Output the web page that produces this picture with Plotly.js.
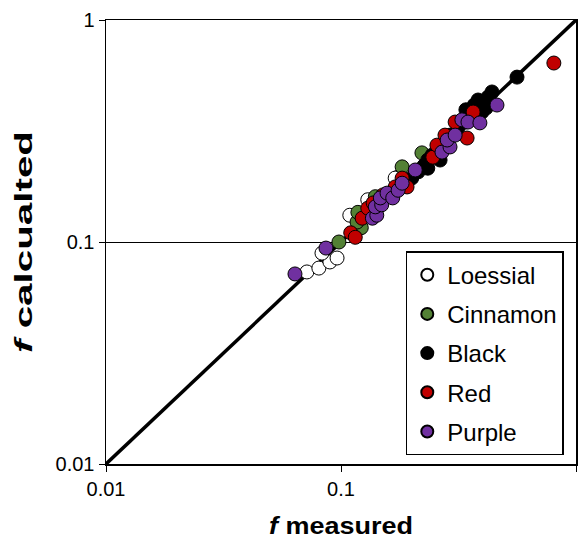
<!DOCTYPE html>
<html>
<head>
<meta charset="utf-8">
<script src="https://cdn.plot.ly/plotly-3.0.1.min.js"></script>
<style>html,body{margin:0;padding:0;background:#fff;}#chart{width:579px;height:543px;}</style>
</head>
<body>
<div id="chart"></div>
<script>
// Data (f measured, f calculated)
const loessialX = [0.0716, 0.0805, 0.0897, 0.0962, 0.083, 0.109, 0.130, 0.175, 0.170];
const loessialY = [0.0733, 0.0763, 0.0813, 0.0847, 0.0891, 0.132, 0.155, 0.196, 0.194];

const cinnamonX = [0.098, 0.122, 0.117, 0.118, 0.140, 0.182, 0.221];
const cinnamonY = [0.100, 0.116, 0.123, 0.136, 0.160, 0.218, 0.252];

const blackX = [0.200, 0.213, 0.225, 0.234, 0.234, 0.244, 0.254, 0.256, 0.264, 0.267, 0.280, 0.291, 0.315, 0.337, 0.354, 0.340, 0.361, 0.369, 0.375, 0.383, 0.390, 0.398, 0.406, 0.414, 0.423, 0.439, 0.561];
const blackY = [0.194, 0.207, 0.220, 0.215, 0.234, 0.246, 0.246, 0.259, 0.234, 0.273, 0.288, 0.303, 0.327, 0.347, 0.373, 0.394, 0.362, 0.414, 0.385, 0.436, 0.406, 0.385, 0.428, 0.401, 0.450, 0.474, 0.553];

const redX = [0.110, 0.115, 0.123, 0.130, 0.137, 0.151, 0.170, 0.182, 0.191, 0.246, 0.256, 0.277, 0.306, 0.344, 0.365, 0.805];
const redY = [0.110, 0.105, 0.128, 0.142, 0.150, 0.163, 0.177, 0.194, 0.177, 0.241, 0.273, 0.303, 0.347, 0.294, 0.385, 0.640];

const purpleX = [0.0637, 0.0863, 0.136, 0.142, 0.140, 0.149, 0.147, 0.157, 0.166, 0.175, 0.182, 0.207, 0.269, 0.291, 0.283, 0.306, 0.327, 0.347, 0.390, 0.461];
const purpleY = [0.0718, 0.0939, 0.128, 0.132, 0.144, 0.147, 0.158, 0.166, 0.158, 0.171, 0.184, 0.211, 0.254, 0.268, 0.288, 0.303, 0.355, 0.347, 0.344, 0.414];

const lineX = [0.01, 1];
const lineY = [0.01, 1];

const tickVals = [0.01, 0.1, 1];
const tickText = ['0.01', '0.1', '1'];

const FONT = 'Arial, "Liberation Sans", sans-serif';

function series(name, x, y, fill) {
  return {
    type: 'scatter', mode: 'markers', name: name, x: x, y: y,
    legendgroup: name,
    marker: {size: 14, color: fill, line: {color: '#000', width: 1}},
    cliponaxis: false
  };
}

const traces = [
  {type: 'scatter', mode: 'lines', x: lineX, y: lineY, showlegend: false,
   line: {color: '#000', width: 3.5}, hoverinfo: 'skip'},
  series('Loessial', loessialX, loessialY, '#ffffff'),
  series('Cinnamon', cinnamonX, cinnamonY, '#538135'),
  series('Black', blackX, blackY, '#000000'),
  series('Red', redX, redY, '#c00000'),
  series('Purple', purpleX, purpleY, '#7030a0')
];

const layout = {
  width: 579, height: 543,
  margin: {l: 106, r: 3, t: 20, b: 79},
  paper_bgcolor: '#fff', plot_bgcolor: '#fff',
  font: {family: FONT, size: 18, color: '#000'},
  showlegend: true,
  legend: {
    x: 0.974, y: 0.02, xanchor: 'right', yanchor: 'bottom',
    bordercolor: '#000', borderwidth: 1.5, bgcolor: '#fff',
    font: {family: FONT, size: 24, color: '#000'},
    tracegroupgap: 5, itemsizing: 'constant', itemwidth: 30,
    traceorder: 'grouped'
  },
  xaxis: {
    type: 'log', range: [-2, 0],
    tickvals: tickVals, ticktext: tickText,
    ticks: 'outside', ticklen: 6, tickwidth: 1, tickcolor: '#000',
    showgrid: false, zeroline: false,
    showline: true, linecolor: '#000', linewidth: 1.5, mirror: true,
    tickfont: {family: FONT, size: 20, color: '#000'},
    title: {text: '<b><i>f</i> measured</b>', font: {family: FONT, size: 24, color: '#000'}, standoff: 18}
  },
  yaxis: {
    type: 'log', range: [-2, 0],
    tickvals: tickVals, ticktext: tickText,
    ticks: 'outside', ticklen: 6, tickwidth: 1, tickcolor: '#000',
    showgrid: true, gridcolor: '#000', gridwidth: 1, zeroline: false,
    showline: true, linecolor: '#000', linewidth: 1.5, mirror: true,
    tickfont: {family: FONT, size: 20, color: '#000'},
    title: {text: '<b><i>f</i> calcualted</b>', font: {family: FONT, size: 24, color: '#000'}, standoff: 16}
  }
};

Plotly.newPlot('chart', traces, layout, {displayModeBar: false, staticPlot: true}).then(function (gd) {
  // Stretch the axis titles along their length, as in the reference
  const yt = gd.querySelector('.ytitle');
  if (yt) { yt.setAttribute('textLength', '222'); yt.setAttribute('lengthAdjust', 'spacingAndGlyphs'); }
  const xt = gd.querySelector('.xtitle');
  if (xt) { xt.setAttribute('textLength', '144'); xt.setAttribute('lengthAdjust', 'spacingAndGlyphs'); }
});
</script>
</body>
</html>
